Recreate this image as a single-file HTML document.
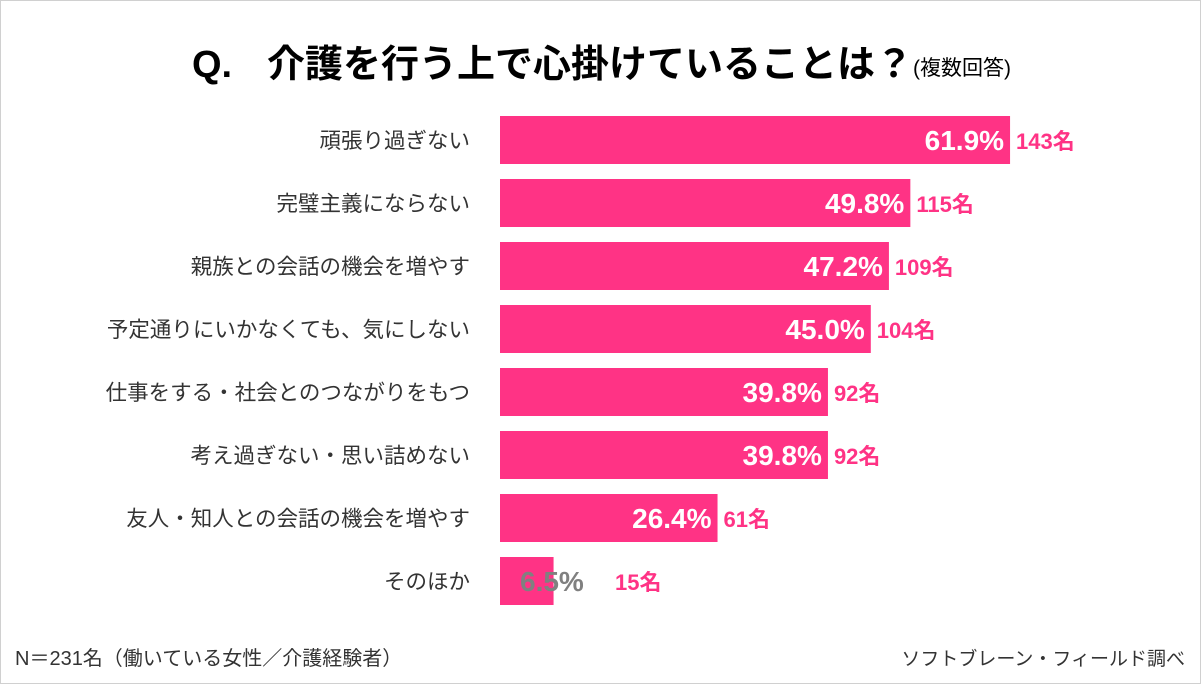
<!DOCTYPE html>
<html><head><meta charset="utf-8"><style>
html,body{margin:0;padding:0;background:#fff}
#wrap{position:relative;width:1199px;height:682px;border:1px solid #d0d0d0;overflow:hidden;font-family:"Liberation Sans","Noto Sans CJK JP",sans-serif}
svg text{font-family:"Liberation Sans","Noto Sans CJK JP",sans-serif}
</style></head><body>
<div id="wrap">
<svg id="chart" width="1199" height="682">
<text x="191" y="76" font-size="38" font-weight="bold" fill="#000">Q.</text>
<text x="266" y="76" font-size="38" font-weight="bold" fill="#000">介護を行う上で心掛けていることは？<tspan font-size="21" font-weight="normal" dy="-2">(複数回答)</tspan></text>
<text x="14" y="664" font-size="20" fill="#333">N＝231名（働いている女性／介護経験者）</text>
<text x="1184" y="664" font-size="19" fill="#333" text-anchor="end">ソフトブレーン・フィールド調べ</text>
</svg>
</div>
<script>
const categories=["頑張り過ぎない","完璧主義にならない","親族との会話の機会を増やす","予定通りにいかなくても、気にしない","仕事をする・社会とのつながりをもつ","考え過ぎない・思い詰めない","友人・知人との会話の機会を増やす","そのほか"];
const percents=[61.9,49.8,47.2,45.0,39.8,39.8,26.4,6.5];
const counts=[143,115,109,104,92,92,61,15];
const ns="http://www.w3.org/2000/svg";
const svg=document.getElementById('chart');
const x0=499,pxPer=8.24,top0=115,step=63,bh=48;
const xs=v=>v*pxPer;
function mk(t,a){const e=document.createElementNS(ns,t);for(const k in a)e.setAttribute(k,a[k]);svg.appendChild(e);return e;}
categories.forEach((c,i)=>{
  const y=top0+i*step,w=xs(percents[i]);
  const r=mk('rect',{x:x0,y:y,width:w,height:bh,fill:'#ff3385'});
  
  
  const l=mk('text',{x:469,y:y+bh/2+8,'font-size':21.5,fill:'#333','text-anchor':'end'});
  l.textContent=c;
  
  
  const small=w<80;
  const p=mk('text',{x:small?x0+20:x0+w-6,y:y+bh/2+10,'font-size':28,'font-weight':'bold',fill:small?'#808080':'#fff','text-anchor':small?'start':'end'});
  p.textContent=percents[i].toFixed(1)+'%';
  
  
  const n=mk('text',{x:small?x0+115:x0+w+6,y:y+bh/2+9,'font-size':22,'font-weight':'bold',fill:'#ff3385'});
  n.textContent=counts[i]+'名';
  
  
});
</script>
</body></html>
